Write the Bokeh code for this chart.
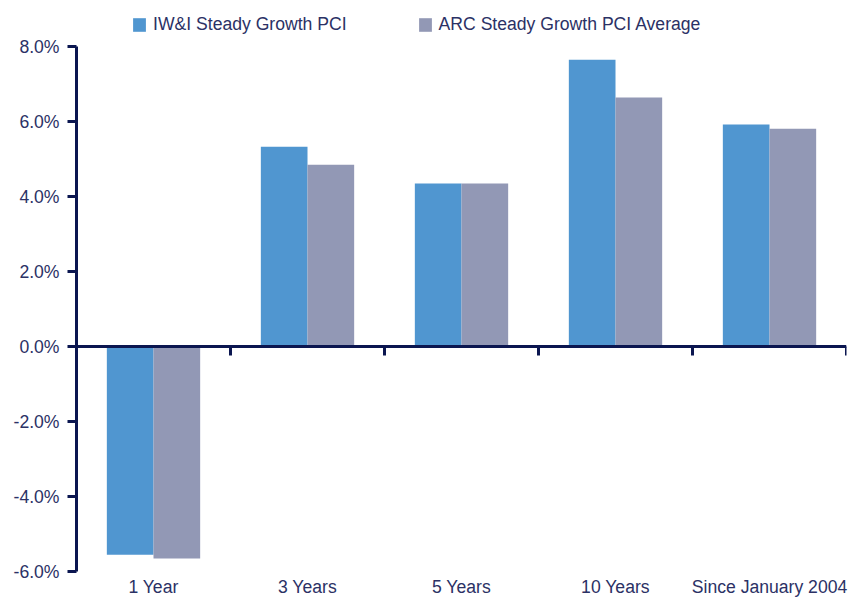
from bokeh.plotting import figure
from bokeh.models import (ColumnDataSource, FactorRange, Range1d, Span, Legend,
                          PrintfTickFormatter, FixedTicker)
from bokeh.transform import dodge
from bokeh.embed import file_html
from bokeh.resources import INLINE

categories = ["1 Year", "3 Years", "5 Years", "10 Years", "Since January 2004"]
iwi_values = [-5.55, 5.33, 4.35, 7.65, 5.92]
arc_values = [-5.65, 4.85, 4.35, 6.64, 5.81]
series_names = ["IW&I Steady Growth PCI", "ARC Steady Growth PCI Average"]
y_ticks = [-6, -4, -2, 0, 2, 4, 6, 8]
y_min, y_max = -6, 8

BLUE = "#5096d0"
GREY = "#9298b5"
NAVY = "#0b1650"
TEXT = "#2b3165"
FONT = "Liberation Sans"
FS = "17.6px"

source = ColumnDataSource(dict(cat=categories, iwi=iwi_values, arc=arc_values,
                               base=[0] * len(categories),
                               tick_end=[-0.24] * len(categories)))

# extra headroom above 8% holds the legend inside the frame
p = figure(x_range=FactorRange(*categories), y_range=Range1d(y_min, y_max + 1.227),
           width=848, height=599, output_backend="svg", toolbar_location=None,
           min_border_left=76, min_border_right=2, min_border_top=0,
           min_border_bottom=28)
p.outline_line_color = None
p.xgrid.grid_line_color = None
p.ygrid.grid_line_color = None
p.background_fill_color = "white"

bw = 0.303
r1 = p.vbar(x=dodge("cat", -bw / 2, range=p.x_range), top="iwi", bottom=0, width=bw,
            source=source, fill_color=BLUE, line_color=None)
r2 = p.vbar(x=dodge("cat", bw / 2, range=p.x_range), top="arc", bottom=0, width=bw,
            source=source, fill_color=GREY, line_color=None)

# zero baseline and category separator ticks
p.add_layout(Span(location=0, dimension="width", line_color=NAVY, line_width=3))
p.segment(x0=dodge("cat", 0.5, range=p.x_range), x1=dodge("cat", 0.5, range=p.x_range),
          y0="base", y1="tick_end", source=source, line_color=NAVY, line_width=3)

# y axis
ya = p.yaxis[0]
ya.bounds = (y_min, y_max)
ya.ticker = FixedTicker(ticks=y_ticks)
ya.formatter = PrintfTickFormatter(format="%.1f%%")
ya.axis_line_color = NAVY
ya.axis_line_width = 3
ya.major_tick_line_color = NAVY
ya.major_tick_line_width = 3
ya.major_tick_out = 9
ya.major_tick_in = 0
ya.minor_tick_line_color = None
ya.major_label_standoff = 8
ya.major_label_text_font = FONT
ya.major_label_text_font_size = FS
ya.major_label_text_color = TEXT

# x axis (labels only)
xa = p.xaxis[0]
xa.axis_line_color = None
xa.major_tick_line_color = None
xa.minor_tick_line_color = None
xa.major_tick_out = 0
xa.major_tick_in = 0
xa.major_label_standoff = 5
xa.major_label_text_font = FONT
xa.major_label_text_font_size = FS
xa.major_label_text_color = TEXT

legend = Legend(items=[(series_names[0], [r1]), (series_names[1], [r2])],
                orientation="horizontal", location=(55, 536))
legend.spacing = 70
legend.label_standoff = 6
legend.glyph_width = 16
legend.glyph_height = 17
legend.padding = 0
legend.margin = 0
legend.border_line_color = None
legend.background_fill_alpha = 0
legend.label_text_font = FONT
legend.label_text_font_size = FS
legend.label_text_color = TEXT
p.add_layout(legend, "center")

open("out.html", "w").write(file_html(p, INLINE))
